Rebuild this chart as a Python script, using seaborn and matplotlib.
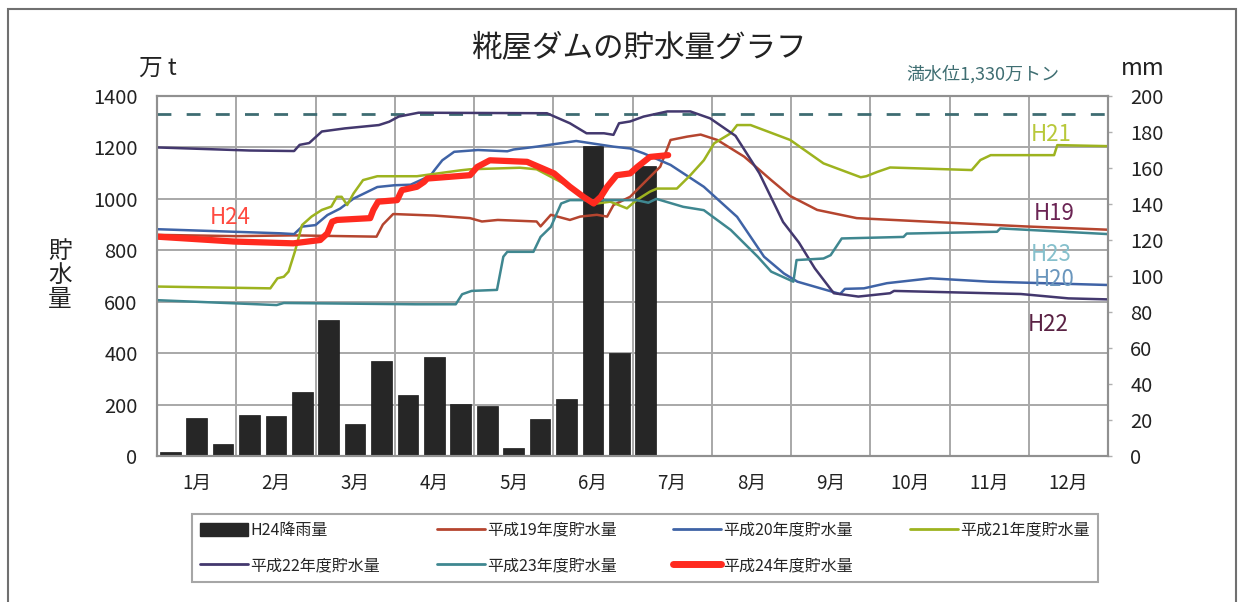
import numpy as np
import pandas as pd
import matplotlib
matplotlib.use("Agg")
import matplotlib.pyplot as plt
from matplotlib.patches import Patch, Rectangle
from matplotlib.lines import Line2D
import seaborn as sns

sns.set_style("white")
plt.rcParams['font.family'] = ['Noto Sans CJK JP', 'DejaVu Sans']

# ---------------- data ----------------
months = ["1月", "2月", "3月", "4月", "5月", "6月", "7月", "8月", "9月", "10月", "11月", "12月"]

# rainfall 2012 (H24) per dekad (mm), Jan 1st dekad .. Jul 1st dekad
rain_mm = [2.1, 21, 6.4, 22.7, 22.3, 35.7, 75.7, 17.7, 52.7, 33.9, 54.9, 28.7,
           27.7, 4.6, 20.4, 31.6, 172, 57, 161]
rain_pos = [i // 3 + (i % 3 + 0.5) / 3 for i in range(len(rain_mm))]

# storage (万t); x = position in months (0 = Jan 1, 12 = Dec 31)
h19_x = [0, 1.0, 1.72, 2.77, 2.85, 2.98, 3.5, 3.95, 4.1, 4.3, 4.79, 4.84, 4.97, 5.21, 5.34, 5.55,
         5.68, 5.76, 5.97, 6.18, 6.35, 6.48, 6.69, 6.86, 7.07, 7.41, 7.75, 7.99, 8.33, 8.83, 9.68, 10.94, 12.0]
h19_y = [860, 855, 858, 853, 900, 941, 935, 925, 912, 918, 912, 893, 938, 918, 931, 938,
         931, 976, 1008, 1073, 1125, 1229, 1242, 1250, 1229, 1164, 1073, 1011, 957, 925, 912, 893, 880]

h20_x = [0, 1.56, 1.73, 1.83, 2.0, 2.15, 2.31, 2.48, 2.78, 3.0, 3.2, 3.45, 3.5, 3.6, 3.75, 4.05,
         4.42, 4.5, 4.79, 5.29, 5.76, 5.97, 6.14, 6.48, 6.9, 7.32, 7.66, 7.91, 8.08, 8.62, 8.68,
         8.92, 9.21, 9.76, 10.5, 12.0]
h20_y = [882, 866, 863, 892, 898, 937, 962, 1001, 1046, 1053, 1055, 1090, 1111, 1150, 1183, 1190,
         1185, 1192, 1203, 1225, 1203, 1196, 1177, 1132, 1047, 930, 775, 710, 678, 630, 650,
         652, 672, 691, 678, 665]

h21_x = [0, 1.43, 1.52, 1.6, 1.66, 1.74, 1.83, 1.95, 2.08, 2.2, 2.27, 2.33, 2.4, 2.48, 2.6, 2.78,
         3.28, 3.83, 3.95, 4.58, 4.79, 5.21, 5.42, 5.55, 5.72, 5.93, 6.05, 6.22, 6.31, 6.56, 6.73,
         6.9, 7.03, 7.24, 7.32, 7.49, 7.99, 8.41, 8.88, 8.95, 9.09, 9.25, 10.28, 10.39, 10.52,
         11.32, 11.36, 12.0]
h21_y = [659, 652, 691, 697, 717, 795, 898, 931, 957, 970, 1008, 1008, 976, 1021, 1073, 1088,
         1088, 1111, 1115, 1121, 1115, 1047, 995, 982, 989, 963, 995, 1028, 1040, 1040, 1092,
         1150, 1216, 1255, 1287, 1287, 1229, 1138, 1084, 1088, 1105, 1122, 1112, 1151, 1170,
         1170, 1209, 1205]

h22_x = [0, 1.17, 1.73, 1.80, 1.92, 2.08, 2.37, 2.8, 2.93, 3.05, 3.3, 4.92, 5.21, 5.42, 5.64,
         5.76, 5.83, 5.97, 6.14, 6.44, 6.73, 6.98, 7.3, 7.6, 7.9, 8.1, 8.3, 8.54, 8.85, 9.25, 9.3,
         10.9, 11.5, 12.0]
h22_y = [1200, 1188, 1186, 1210, 1217, 1262, 1274, 1287, 1300, 1320, 1335, 1333, 1294, 1255, 1255,
         1249, 1294, 1301, 1320, 1340, 1340, 1313, 1245, 1100, 910, 830, 730, 633, 620, 633, 642,
         630, 613, 609]

h23_x = [0, 1.51, 1.6, 3.26, 3.77, 3.85, 3.97, 4.29, 4.37, 4.42, 4.75, 4.84, 4.97, 5.1, 5.21,
         6.05, 6.2, 6.3, 6.64, 6.9, 7.24, 7.58, 7.75, 8.03, 8.07, 8.41, 8.5, 8.64, 9.42, 9.46,
         10.6, 10.64, 12.0]
h23_y = [606, 587, 595, 590, 590, 629, 642, 646, 775, 794, 794, 852, 891, 982, 995,
         995, 985, 1000, 969, 956, 879, 775, 717, 678, 762, 768, 781, 846, 852, 865,
         872, 885, 863]

h24_x = [0, 0.97, 1.72, 2.06, 2.15, 2.21, 2.27, 2.69, 2.73, 2.79, 3.03, 3.09, 3.28, 3.37, 3.41,
         3.95, 4.04, 4.2, 4.67, 5.01, 5.21, 5.38, 5.51, 5.6, 5.68, 5.8, 5.97, 6.06, 6.22, 6.45]
h24_y = [853, 834, 827, 840, 866, 911, 918, 925, 957, 989, 995, 1034, 1047, 1066, 1079,
         1092, 1124, 1150, 1144, 1099, 1047, 1008, 982, 1008, 1047, 1092, 1099, 1124, 1163, 1170]

full_level = 1330

series = [
    ("平成19年度貯水量", h19_x, h19_y, "#b5452f", 1.8),
    ("平成20年度貯水量", h20_x, h20_y, "#3f63a6", 1.8),
    ("平成21年度貯水量", h21_x, h21_y, "#9db31f", 1.8),
    ("平成22年度貯水量", h22_x, h22_y, "#43386e", 1.8),
    ("平成23年度貯水量", h23_x, h23_y, "#3f8790", 1.8),
    ("平成24年度貯水量", h24_x, h24_y, "#ff2a1f", 4.5),
]

labels_on_plot = [
    ("H24", 0.92, 926, "#ff4a40"),
    ("H21", 11.28, 1250, "#b8c83a"),
    ("H19", 11.32, 945, "#6b2454"),
    ("H23", 11.28, 782, "#86c0cc"),
    ("H20", 11.32, 688, "#6a96bd"),
    ("H22", 11.25, 510, "#5a2244"),
]

# ---------------- figure ----------------
fig = plt.figure(figsize=(12.44, 6.02), dpi=100)
ax = fig.add_axes([157 / 1244, 1 - 456 / 602, (1108 - 157) / 1244, 360 / 602])
ax2 = ax.twinx()

# bars (rain) on right axis
rain_df = pd.DataFrame({"pos": rain_pos, "mm": rain_mm})
sns.barplot(data=rain_df, x="pos", y="mm", native_scale=True, orient="x", width=0.78,
            color="#262626", saturation=1, ax=ax2, zorder=2)
for p in ax2.patches:
    p.set_edgecolor("#1a1a1a")
    p.set_linewidth(0.5)

ax2.set_ylim(0, 200)
ax2.set_yticks(np.arange(0, 201, 20))
ax2.set_ylabel("")
ax2.set_xlabel("")

# lines on left axis, drawn above bars
ax.set_zorder(ax2.get_zorder() + 1)
ax.patch.set_visible(False)
for name, xs, ys, col, lw in series:
    df = pd.DataFrame({"m": xs, "v": ys})
    sns.lineplot(data=df, x="m", y="v", ax=ax, color=col, linewidth=lw,
                 estimator=None, sort=False, legend=False)
ax.axhline(full_level, color="#3e6c72", lw=2, ls=(0, (5, 5.5)), zorder=1)

ax.set_xlim(0, 12)
ax.set_ylim(0, 1400)
ax.set_yticks(np.arange(0, 1401, 200))
ax.set_xticks([i + 0.5 for i in range(12)])
ax.set_xticklabels(months)
ax.set_xlabel("")
ax.set_ylabel("")
ax2.set_xlim(0, 12)

# grid on the bar axis (behind bars)
ax2.set_axisbelow(True)
for yv in ax.get_yticks():
    ax2.axhline(yv / 7.0, color="#a8a8a8", lw=1.4, zorder=0)
for xv in range(1, 12):
    ax2.axvline(xv, color="#a8a8a8", lw=1.4, zorder=0)

for a in (ax, ax2):
    for s in a.spines.values():
        s.set_color("#909090")
        s.set_linewidth(1.5)

ax.tick_params(axis="y", length=0, pad=14, labelsize=14.5, labelcolor="#222222")
ax.tick_params(axis="x", length=0, pad=12, labelsize=13.5, labelcolor="#222222")
ax2.tick_params(axis="y", direction="out", length=3, width=1, color="#b0b0b0",
                pad=13, labelsize=14.5, labelcolor="#222222")

for txt, mx, vy, col in labels_on_plot:
    ax.text(mx, vy, txt, color=col, fontsize=16, ha="center", va="center")

# texts
fig.text(0.5145, 0.921, "糀屋ダムの貯水量グラフ", ha="center", va="center", fontsize=22, color="#222222")
fig.text(0.127, 0.887, "万 t", ha="center", va="center", fontsize=17, color="#222222")
fig.text(0.919, 0.887, "mm", ha="center", va="center", fontsize=17, color="#222222")
fig.text(0.790, 0.876, "満水位1,330万トン", ha="center", va="center", fontsize=13, color="#3f6e72")
fig.text(0.048, 0.543, "貯\n水\n量", ha="center", va="center", fontsize=17,
         linespacing=1.05, color="#222222")

# legend
handles = [
    Patch(facecolor="#262626", edgecolor="#262626"),
    Line2D([], [], color=series[3][3], lw=2),
    Line2D([], [], color=series[0][3], lw=2),
    Line2D([], [], color=series[4][3], lw=2),
    Line2D([], [], color=series[1][3], lw=2),
    Line2D([], [], color=series[5][3], lw=5),
    Line2D([], [], color=series[2][3], lw=2),
]
labs = ["H24降雨量", series[3][0], series[0][0], series[4][0], series[1][0], series[5][0], series[2][0]]
leg = fig.legend(handles, labs, loc="lower left",
                 bbox_to_anchor=(192 / 1244, 1 - 582 / 602, (1098 - 192) / 1244, 69 / 602),
                 mode="expand", ncol=4, frameon=True, fancybox=False, fontsize=11.5,
                 handlelength=3.0, handleheight=0.9, handletextpad=0.15, borderaxespad=0.0,
                 labelspacing=1.15, borderpad=0.5, columnspacing=1.0)
leg.get_frame().set_edgecolor("#909090")
leg.get_frame().set_linewidth(1.5)

# outer frame
fig.patches.append(Rectangle((8 / 1244, -0.05), (1236 - 8) / 1244, 1.05 - 9 / 602,
                             transform=fig.transFigure, fill=False, edgecolor="#707070", lw=1.5))

fig.savefig("out.png", dpi=100)
